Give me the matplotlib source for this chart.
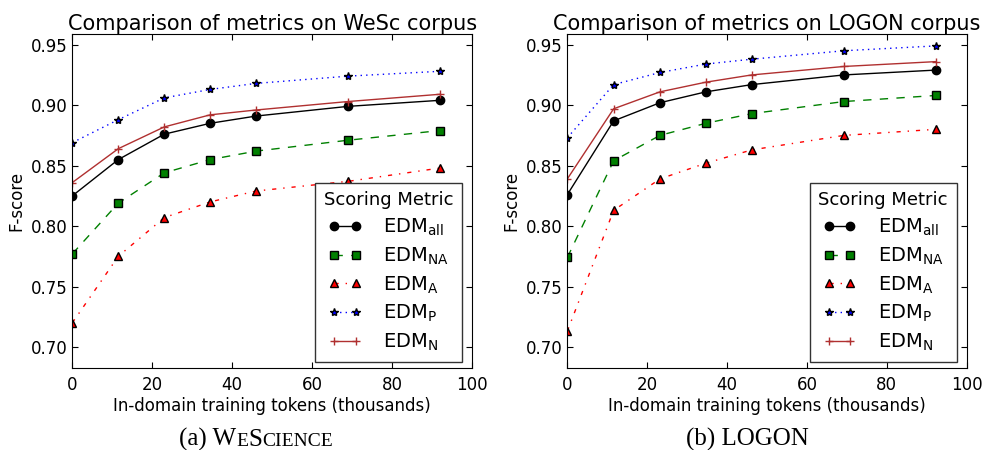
import matplotlib
matplotlib.use("Agg")
import matplotlib.pyplot as plt

plt.rcParams['font.family'] = ['DejaVu Sans']
plt.rcParams['mathtext.fontset'] = 'dejavusans'
plt.rcParams['mathtext.default'] = 'regular'
plt.rcParams['lines.dashed_pattern'] = [6, 6]
plt.rcParams['lines.dashdot_pattern'] = [3, 5, 1, 5]
plt.rcParams['lines.dotted_pattern'] = [1, 3]
plt.rcParams['lines.scale_dashes'] = False

# ---------------- data ----------------
x_wesc = [0, 11.5, 23, 34.5, 46, 69, 92]
x_logon = [0, 11.6, 23.2, 34.7, 46.2, 69.3, 92.3]

wesc_all = [0.825, 0.855, 0.876, 0.885, 0.891, 0.899, 0.904]
wesc_na = [0.777, 0.819, 0.844, 0.855, 0.862, 0.871, 0.879]
wesc_a = [0.720, 0.775, 0.807, 0.820, 0.829, 0.837, 0.848]
wesc_p = [0.869, 0.888, 0.906, 0.913, 0.918, 0.924, 0.928]
wesc_n = [0.836, 0.864, 0.882, 0.892, 0.896, 0.903, 0.909]

logon_all = [0.826, 0.887, 0.902, 0.911, 0.917, 0.925, 0.929]
logon_na = [0.774, 0.854, 0.875, 0.885, 0.893, 0.903, 0.908]
logon_a = [0.713, 0.813, 0.839, 0.852, 0.863, 0.875, 0.880]
logon_p = [0.873, 0.917, 0.927, 0.934, 0.938, 0.945, 0.949]
logon_n = [0.839, 0.897, 0.911, 0.919, 0.925, 0.932, 0.936]

labels = [r'EDM$_{\mathrm{all}}$', r'EDM$_{\mathrm{NA}}$', r'EDM$_{\mathrm{A}}$',
          r'EDM$_{\mathrm{P}}$', r'EDM$_{\mathrm{N}}$']
titles = ['Comparison of metrics on WeSc corpus', 'Comparison of metrics on LOGON corpus']
xlabel = 'In-domain training tokens (thousands)'
ylabel = 'F-score'
yticks = [0.70, 0.75, 0.80, 0.85, 0.90, 0.95]
xticks = [0, 20, 40, 60, 80, 100]

styles = [dict(color='k', ls='-', marker='o', mec='k'),
          dict(color='g', ls='--', marker='s', mec='k'),
          dict(color='r', ls='-.', marker='^', mec='k'),
          dict(color='b', ls=':', marker='*', mec='k'),
          dict(color='#b03030', ls='-', marker='+')]

fig = plt.figure(figsize=(9.87, 4.5), dpi=100)
axes = [fig.add_axes([0.0733, 0.1822, 0.405, 0.7416]),
        fig.add_axes([0.5748, 0.1822, 0.4046, 0.7416])]

datasets = [(x_wesc, [wesc_all, wesc_na, wesc_a, wesc_p, wesc_n]),
            (x_logon, [logon_all, logon_na, logon_a, logon_p, logon_n])]

for ax, (xs, series), title in zip(axes, datasets, titles):
    for ys, lab, st in zip(series, labels, styles):
        ax.plot(xs, ys, label=lab, lw=1.0, ms=6, mew=1.0, **st)
    ax.set_xlim(0, 100)
    ax.set_ylim(0.6826, 0.9586)
    ax.set_xticks(xticks)
    ax.set_yticks(yticks)
    ax.set_yticklabels(['%.2f' % v for v in yticks])
    ax.tick_params(direction='in', top=True, right=True, length=4, width=0.8, labelsize=12)
    ax.tick_params(axis='x', pad=6)
    ax.tick_params(axis='y', pad=3.5)
    ax.set_title(title, fontsize=15, pad=3)
    ax.set_xlabel(xlabel, fontsize=12, labelpad=2)
    ax.set_ylabel(ylabel, fontsize=12, labelpad=4)
    leg = ax.legend(loc='lower right', bbox_to_anchor=(0.975, 0.019),
                    borderaxespad=0, title='Scoring Metric', fontsize=14,
                    title_fontsize=13, numpoints=2, handlelength=1.7,
                    handletextpad=1.1, labelspacing=0.38,
                    fancybox=False, framealpha=1, edgecolor='#333333',
                    borderpad=0.45)
    leg.get_frame().set_linewidth(1.0)

# sub-captions with small caps
def caption(pieces, cx, by):
    fig.canvas.draw()
    r = fig.canvas.get_renderer()
    texts = []
    for s, fs in pieces:
        t = fig.text(0, by / 450.0, s, fontsize=fs, family='Liberation Serif',
                     ha='left', va='baseline')
        texts.append(t)
    widths = [t.get_window_extent(r).width for t in texts]
    total = sum(widths)
    x0 = cx - total / 2.0
    for t, w in zip(texts, widths):
        t.set_x(x0 / 987.0)
        x0 += w

caption([('(a) W', 18), ('E', 14), ('S', 18), ('CIENCE', 14)], 256, 450 - 445.5)
caption([('(b) LOGON', 18)], 747, 450 - 445.5)

fig.savefig('out.png', dpi=100)
